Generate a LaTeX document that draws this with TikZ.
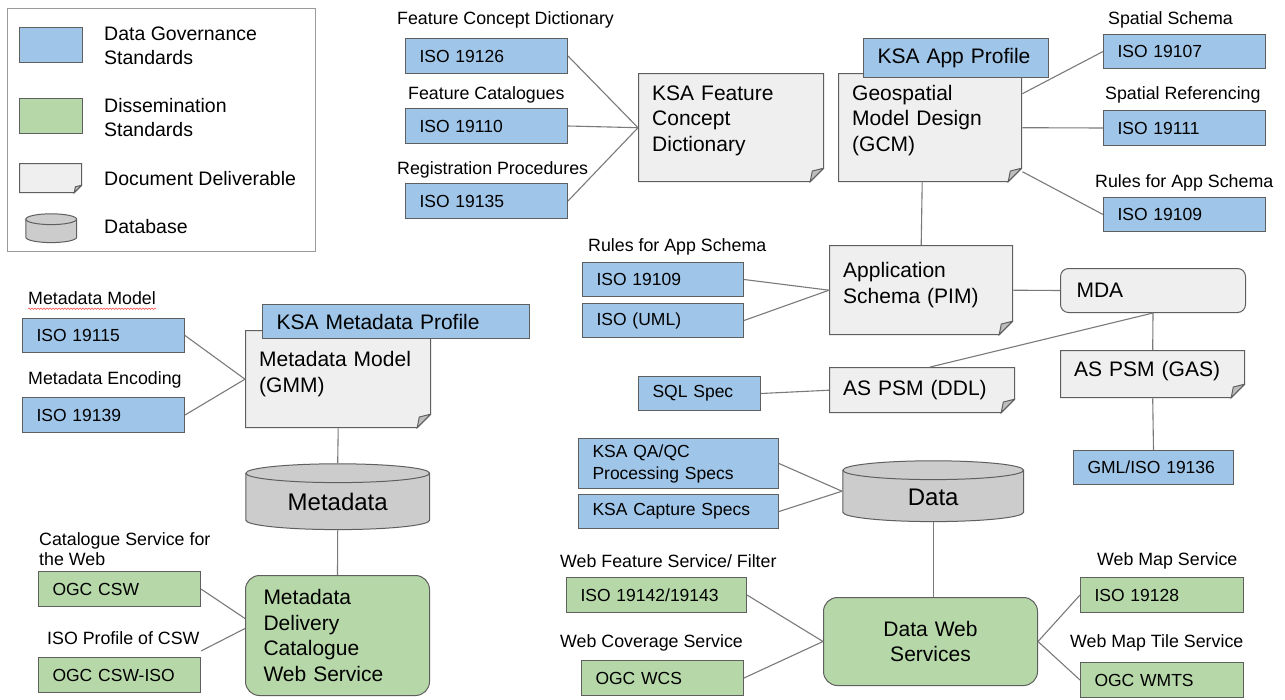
\documentclass[tikz,border=0pt]{standalone}
\usepackage{fontspec}
\setmainfont{Liberation Sans}
\usetikzlibrary{calc}
\usetikzlibrary{decorations.pathmorphing}

\definecolor{govblue}{HTML}{9FC5E8}
\definecolor{disgreen}{HTML}{B6D7A8}
\definecolor{docgray}{HTML}{EFEFEF}
\definecolor{dbgray}{HTML}{CCCCCC}
\definecolor{foldgray}{HTML}{BDBDBD}
\definecolor{linegray}{HTML}{5F5F5F}
\definecolor{wiregray}{HTML}{7A7A7A}
\definecolor{framegray}{HTML}{9A9A9A}

\newcommand{\lblfont}{\fontsize{17.8}{20.5}\selectfont}
\newcommand{\boxfont}{\fontsize{17.5}{22}\selectfont}
\newcommand{\bigfont}{\fontsize{21}{25.5}\selectfont}
\newcommand{\dbfont}{\fontsize{24}{28}\selectfont}
\newcommand{\legfont}{\fontsize{19.5}{24}\selectfont}

\begin{document}
\begin{tikzpicture}[x=1pt,y=-1pt,
 fold/.store in=\foldsize, fold=14pt,
 lid/.store in=\lidsize, lid=10pt,
 gov/.style={draw=linegray,line width=1pt,fill=govblue,anchor=north west,align=left,
  inner xsep=14pt,inner ysep=0pt,minimum height=35pt,font=\boxfont},
 dis/.style={gov,fill=disgreen},
 doc/.style={anchor=north west,align=left,inner xsep=14pt,inner ysep=0pt,font=\bigfont,
  path picture={
   \filldraw[fill=docgray,draw=linegray,line width=1pt]
    ([shift={(0.5pt,-0.5pt)}]path picture bounding box.north west)
    -- ([shift={(-0.5pt,-0.5pt)}]path picture bounding box.north east)
    -- ([shift={(-0.5pt,\foldsize)}]path picture bounding box.south east)
    -- ([shift={(-\foldsize,0.5pt)}]path picture bounding box.south east)
    -- ([shift={(0.5pt,0.5pt)}]path picture bounding box.south west) -- cycle;
   \filldraw[fill=foldgray,draw=linegray,line width=1pt]
    ([shift={(-0.5pt,\foldsize)}]path picture bounding box.south east)
    -- ([shift={(-\foldsize,0.5pt)}]path picture bounding box.south east)
    -- ([shift={(-0.85*\foldsize,0.8*\foldsize)}]path picture bounding box.south east) -- cycle;
  }},
 db/.style={anchor=north west,inner sep=0pt,font=\dbfont,text height=28pt,
  path picture={
   \filldraw[fill=dbgray,draw=linegray,line width=1pt]
    let \p1=(path picture bounding box.south west), \p2=(path picture bounding box.north east),
        \n1={(\x2-\x1)/2-0.6pt} in
    ([shift={(0.6pt,-\lidsize)}]path picture bounding box.north west)
    -- ([shift={(0.6pt,\lidsize)}]path picture bounding box.south west)
    arc[start angle=180,end angle=360,x radius=\n1,y radius=\lidsize-0.6pt]
    -- ([shift={(-0.6pt,-\lidsize)}]path picture bounding box.north east)
    arc[start angle=0,end angle=180,x radius=\n1,y radius=\lidsize-0.6pt] -- cycle;
   \draw[linegray,line width=1pt]
    let \p1=(path picture bounding box.south west), \p2=(path picture bounding box.north east),
        \n1={(\x2-\x1)/2-0.6pt} in
    ([shift={(0.6pt,-\lidsize)}]path picture bounding box.north west)
    arc[start angle=180,end angle=360,x radius=\n1,y radius=\lidsize-0.6pt];
  }},
 lbl/.style={anchor=west,inner sep=0pt,align=left,font=\lblfont},
 leg/.style={lbl,font=\legfont},
 wire/.style={draw=wiregray,line width=1.1pt}]

\fill[white] (0,0) rectangle (1285,699);
\useasboundingbox (0,0) rectangle (1285,699);

% legend
\draw[framegray,line width=1pt] (7,8) rectangle (315,251);
\node[gov,text width=35pt] (leggov) at (19,27) {};
\node[dis,text width=35pt] (legdis) at (19,98) {};
\node[doc,fold=8pt,text width=35pt,minimum height=30pt] (legdoc) at (19,163) {};
\node[db,lid=6pt,text height=0pt,minimum width=52pt,minimum height=30pt] (legdb) at (25,213) {};
\node[leg] (leggovtxt) at (104,46) {Data Governance\\Standards};
\node[leg] (legdistxt) at (104,118) {Dissemination\\Standards};
\node[leg] (legdoctxt) at (104,179) {Document Deliverable};
\node[leg] (legdbtxt) at (104,227) {Database};

% feature concept dictionary
\node[lbl] (lblfcd) at (397,20) {Feature Concept Dictionary};
\node[gov,text width=134pt] (iso19126) at (405,38) {ISO 19126};
\node[lbl] (lblfc) at (408,95) {Feature Catalogues};
\node[gov,text width=134pt] (iso19110) at (405,108) {ISO 19110};
\node[lbl] (lblrp) at (397,170) {Registration Procedures};
\node[gov,text width=134pt] (iso19135) at (405,183) {ISO 19135};
\node[doc,text width=158pt,minimum height=109pt,text depth=70pt] (fcd) at (638,73) {KSA Feature\\Concept\\Dictionary};
\draw[wire] (iso19126.east) -- (fcd.west);
\draw[wire] (iso19110.east) -- (fcd.west);
\draw[wire] (iso19135.east) -- (fcd.west);

% geospatial model design
\node[doc,text width=156pt,minimum height=109pt,text depth=70pt] (gcm) at (838,73) {Geospatial\\Model Design\\(GCM)};
\node[gov,font=\bigfont,text width=157pt,minimum height=39pt] (ksaapp) at (863,38) {KSA App Profile};
\node[lbl] (lblss) at (1108,20) {Spatial Schema};
\node[gov,text width=134pt,minimum height=34pt] (iso19107) at (1103,34) {ISO 19107};
\node[lbl] (lblsr) at (1105,95) {Spatial Referencing};
\node[gov,text width=134pt] (iso19111) at (1103,110) {ISO 19111};
\node[lbl] (lblras) at (1095,183) {Rules for App Schema};
\node[gov,text width=134pt,minimum height=34pt] (iso19109) at (1103,197) {ISO 19109};
\draw[wire] ([yshift=34pt]gcm.east) -- (iso19107.west);
\draw[wire] (gcm.east) -- (iso19111.west);
\draw[wire] ([yshift=-44pt]gcm.east) -- (iso19109.west);

% application schema
\node[doc,text width=156pt,minimum height=90pt,text depth=40pt] (pim) at (829,245) {Application\\Schema (PIM)};
\node[lbl] (lblrasb) at (588,247) {Rules for App Schema};
\node[gov,text width=133pt,minimum height=34pt] (iso19109b) at (582,262) {ISO 19109};
\node[gov,text width=133pt,minimum height=34pt] (isouml) at (582,303) {ISO (UML)};
\draw[wire] ([xshift=-8pt]gcm.south) -- (pim.north);
\draw[wire] (iso19109b.east) -- (pim.west);
\draw[wire] (isouml.east) -- (pim.west);
\node[draw=linegray,line width=1pt,fill=docgray,rounded corners=8pt,anchor=north west,
 align=left,inner xsep=16pt,inner ysep=0pt,text width=153pt,minimum height=44pt,font=\bigfont] (mda) at (1060,268) {MDA};
\draw[wire] (pim.east) -- (mda.west);

% platform specific models
\node[doc,text width=158pt,minimum height=46pt] (ddl) at (829,367) {AS PSM (DDL)};
\node[doc,text width=157pt,minimum height=48pt,text depth=10pt] (gas) at (1060,350) {AS PSM (GAS)};
\node[gov,text width=94pt,minimum height=34pt] (sqlspec) at (638,376) {SQL Spec};
\node[gov,text width=132pt,minimum height=34pt] (gml) at (1073,450) {GML/ISO 19136};
\draw[wire] (mda.south) -- ([xshift=8pt]ddl.north);
\draw[wire] (mda.south) -- (gas.north);
\draw[wire] (sqlspec.east) -- (ddl.west);
\draw[wire] (gas.south) -- (gml.north);

% data
\node[db,minimum width=182pt,minimum height=62pt] (datadb) at (842,460) {Data};
\node[gov,text width=172pt,minimum height=50pt] (qaqc) at (578,438) {KSA QA/QC\\Processing Specs};
\node[gov,text width=172pt,minimum height=34pt] (capture) at (578,494) {KSA Capture Specs};
\draw[wire] (qaqc.east) -- (datadb.west);
\draw[wire] (capture.east) -- (datadb.west);
\node[draw=linegray,line width=1pt,fill=disgreen,rounded corners=14pt,anchor=north west,
 align=center,inner sep=0pt,text width=214pt,minimum height=88pt,font=\bigfont] (dws) at (823,597) {Data Web\\Services};
\draw[wire] (datadb.south) -- (datadb.south |- dws.north);
\node[lbl] (lblwfs) at (560,561) {Web Feature Service/ Filter};
\node[dis,text width=152pt] (iso19142) at (566,577) {ISO 19142/19143};
\node[lbl] (lblwcs) at (560,643) {Web Coverage Service};
\node[dis,text width=134pt] (ogcwcs) at (581,660) {OGC WCS};
\node[lbl] (lblwms) at (1097,561) {Web Map Service};
\node[dis,text width=135pt] (iso19128) at (1080,577) {ISO 19128};
\node[lbl] (lblwmts) at (1070,643) {Web Map Tile Service};
\node[dis,text width=135pt] (ogcwmts) at (1080,662) {OGC WMTS};
\draw[wire] (iso19142.east) -- (dws.west);
\draw[wire] (ogcwcs.east) -- (dws.west);
\draw[wire] (dws.east) -- (iso19128.west);
\draw[wire] (dws.east) -- (ogcwmts.west);

% metadata
\node[lbl] (lblmm) at (28,298) {Metadata Model};
\draw[red!70,line width=0.6pt,decorate,decoration={snake,amplitude=0.7pt,segment length=3pt}]
 ([yshift=-4pt]lblmm.south west) -- ([yshift=-4pt]lblmm.south east);
\node[gov,text width=134pt,minimum height=34pt] (iso19115) at (22,318) {ISO 19115};
\node[lbl] (lblme) at (28,380) {Metadata Encoding};
\node[gov,text width=134pt] (iso19139) at (22,397) {ISO 19139};
\node[doc,text width=158pt,minimum height=98pt,text depth=40pt] (gmm) at (245,330) {Metadata Model\\(GMM)};
\node[gov,font=\bigfont,text width=239pt,minimum height=34pt] (ksameta) at (262,304) {KSA Metadata Profile};
\draw[wire] (iso19115.east) -- (gmm.west);
\draw[wire] (iso19139.east) -- (gmm.west);
\node[db,minimum width=185pt,minimum height=67pt] (metadb) at (245,463) {Metadata};
\draw[wire] (gmm.south) -- (metadb.north);
\node[draw=linegray,line width=1pt,fill=disgreen,rounded corners=14pt,anchor=north west,
 align=left,inner xsep=18pt,inner ysep=0pt,text width=148pt,minimum height=120pt,font=\bigfont] (mdcws) at (245,575) {Metadata\\Delivery\\Catalogue\\Web Service};
\draw[wire] (metadb.south) -- (mdcws.north);
\node[lbl] (lblcsw) at (39,549) {Catalogue Service for\\the Web};
\node[dis,text width=134pt] (ogccsw) at (38,571) {OGC CSW};
\node[lbl] (lblcswiso) at (47,638) {ISO Profile of CSW};
\node[dis,text width=134pt] (ogccswiso) at (38,657) {OGC CSW-ISO};
\draw[wire] (ogccsw.east) -- ([yshift=17pt]mdcws.west);
\draw[wire] ([yshift=6pt]ogccswiso.north east) -- ([yshift=7pt]mdcws.west);
\end{tikzpicture}
\end{document}
